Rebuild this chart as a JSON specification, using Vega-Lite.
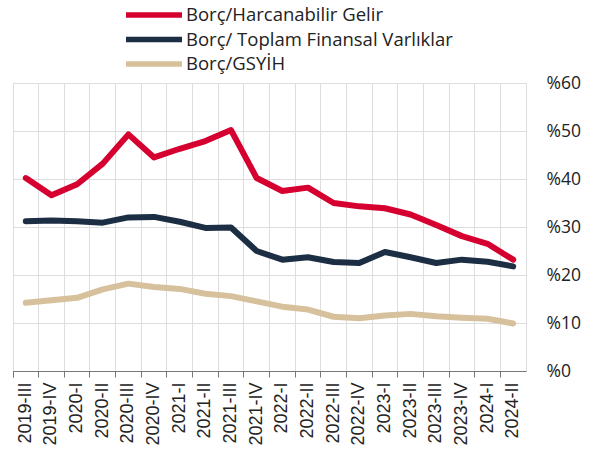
{
  "$schema": "https://vega.github.io/schema/vega-lite/v6.json",
  "width": 513,
  "height": 288,
  "autosize": {"type": "none"},
  "padding": {"left": 13, "top": 83, "right": 64, "bottom": 80},
  "background": "white",
  "config": {"view": {"stroke": "#dddddd"}, "font": "Open Sans"},
  "data": {"values": [
    {"d": "2019-III", "s": "Borç/Harcanabilir Gelir", "v": 40.2},
    {"d": "2019-IV", "s": "Borç/Harcanabilir Gelir", "v": 36.6},
    {"d": "2020-I", "s": "Borç/Harcanabilir Gelir", "v": 38.9},
    {"d": "2020-II", "s": "Borç/Harcanabilir Gelir", "v": 43.2},
    {"d": "2020-III", "s": "Borç/Harcanabilir Gelir", "v": 49.3},
    {"d": "2020-IV", "s": "Borç/Harcanabilir Gelir", "v": 44.5},
    {"d": "2021-I", "s": "Borç/Harcanabilir Gelir", "v": 46.3},
    {"d": "2021-II", "s": "Borç/Harcanabilir Gelir", "v": 47.9},
    {"d": "2021-III", "s": "Borç/Harcanabilir Gelir", "v": 50.2},
    {"d": "2021-IV", "s": "Borç/Harcanabilir Gelir", "v": 40.2},
    {"d": "2022-I", "s": "Borç/Harcanabilir Gelir", "v": 37.5},
    {"d": "2022-II", "s": "Borç/Harcanabilir Gelir", "v": 38.2},
    {"d": "2022-III", "s": "Borç/Harcanabilir Gelir", "v": 35.0},
    {"d": "2022-IV", "s": "Borç/Harcanabilir Gelir", "v": 34.3},
    {"d": "2023-I", "s": "Borç/Harcanabilir Gelir", "v": 33.9},
    {"d": "2023-II", "s": "Borç/Harcanabilir Gelir", "v": 32.6},
    {"d": "2023-III", "s": "Borç/Harcanabilir Gelir", "v": 30.4},
    {"d": "2023-IV", "s": "Borç/Harcanabilir Gelir", "v": 28.1},
    {"d": "2024-I", "s": "Borç/Harcanabilir Gelir", "v": 26.5},
    {"d": "2024-II", "s": "Borç/Harcanabilir Gelir", "v": 23.2},
    {"d": "2019-III", "s": "Borç/ Toplam Finansal Varlıklar", "v": 31.2},
    {"d": "2019-IV", "s": "Borç/ Toplam Finansal Varlıklar", "v": 31.35},
    {"d": "2020-I", "s": "Borç/ Toplam Finansal Varlıklar", "v": 31.2},
    {"d": "2020-II", "s": "Borç/ Toplam Finansal Varlıklar", "v": 30.9},
    {"d": "2020-III", "s": "Borç/ Toplam Finansal Varlıklar", "v": 32.0},
    {"d": "2020-IV", "s": "Borç/ Toplam Finansal Varlıklar", "v": 32.1},
    {"d": "2021-I", "s": "Borç/ Toplam Finansal Varlıklar", "v": 31.1},
    {"d": "2021-II", "s": "Borç/ Toplam Finansal Varlıklar", "v": 29.8},
    {"d": "2021-III", "s": "Borç/ Toplam Finansal Varlıklar", "v": 29.9},
    {"d": "2021-IV", "s": "Borç/ Toplam Finansal Varlıklar", "v": 25.0},
    {"d": "2022-I", "s": "Borç/ Toplam Finansal Varlıklar", "v": 23.2},
    {"d": "2022-II", "s": "Borç/ Toplam Finansal Varlıklar", "v": 23.7},
    {"d": "2022-III", "s": "Borç/ Toplam Finansal Varlıklar", "v": 22.7},
    {"d": "2022-IV", "s": "Borç/ Toplam Finansal Varlıklar", "v": 22.5},
    {"d": "2023-I", "s": "Borç/ Toplam Finansal Varlıklar", "v": 24.8},
    {"d": "2023-II", "s": "Borç/ Toplam Finansal Varlıklar", "v": 23.7},
    {"d": "2023-III", "s": "Borç/ Toplam Finansal Varlıklar", "v": 22.5},
    {"d": "2023-IV", "s": "Borç/ Toplam Finansal Varlıklar", "v": 23.2},
    {"d": "2024-I", "s": "Borç/ Toplam Finansal Varlıklar", "v": 22.75},
    {"d": "2024-II", "s": "Borç/ Toplam Finansal Varlıklar", "v": 21.8},
    {"d": "2019-III", "s": "Borç/GSYİH", "v": 14.2},
    {"d": "2019-IV", "s": "Borç/GSYİH", "v": 14.75},
    {"d": "2020-I", "s": "Borç/GSYİH", "v": 15.25},
    {"d": "2020-II", "s": "Borç/GSYİH", "v": 17.0},
    {"d": "2020-III", "s": "Borç/GSYİH", "v": 18.2},
    {"d": "2020-IV", "s": "Borç/GSYİH", "v": 17.5},
    {"d": "2021-I", "s": "Borç/GSYİH", "v": 17.1},
    {"d": "2021-II", "s": "Borç/GSYİH", "v": 16.1},
    {"d": "2021-III", "s": "Borç/GSYİH", "v": 15.6},
    {"d": "2021-IV", "s": "Borç/GSYİH", "v": 14.5},
    {"d": "2022-I", "s": "Borç/GSYİH", "v": 13.4},
    {"d": "2022-II", "s": "Borç/GSYİH", "v": 12.8},
    {"d": "2022-III", "s": "Borç/GSYİH", "v": 11.3},
    {"d": "2022-IV", "s": "Borç/GSYİH", "v": 11.0},
    {"d": "2023-I", "s": "Borç/GSYİH", "v": 11.55},
    {"d": "2023-II", "s": "Borç/GSYİH", "v": 11.9},
    {"d": "2023-III", "s": "Borç/GSYİH", "v": 11.4},
    {"d": "2023-IV", "s": "Borç/GSYİH", "v": 11.1},
    {"d": "2024-I", "s": "Borç/GSYİH", "v": 10.9},
    {"d": "2024-II", "s": "Borç/GSYİH", "v": 9.9}
  ]},
  "mark": {"type": "line", "strokeWidth": 6, "strokeJoin": "round", "strokeCap": "round"},
  "encoding": {
    "x": {
      "field": "d", "type": "ordinal", "sort": null, "bandPosition": 0.5,
      "scale": {"type": "band", "paddingInner": 0, "paddingOuter": 0},
      "axis": {
        "title": null, "bandPosition": 0, "tickExtra": true,
        "labelAngle": -90, "labelAlign": "right", "labelBaseline": "middle",
        "labelFont": "Liberation Sans", "labelFontSize": 18, "labelColor": "#222222",
        "labelPadding": 5, "tickSize": 6, "tickColor": "#777777",
        "domainColor": "#777777", "grid": true, "gridColor": "#dddddd"
      }
    },
    "y": {
      "field": "v", "type": "quantitative",
      "scale": {"domain": [0, 60]},
      "axis": {
        "title": null, "orient": "right", "values": [0, 10, 20, 30, 40, 50, 60],
        "labelExpr": "'%' + datum.value", "ticks": false, "domain": false,
        "labelPadding": 20, "labelFontSize": 17.5, "labelColor": "#222222",
        "labelFont": "Open Sans", "gridColor": "#dddddd"
      }
    },
    "color": {
      "field": "s", "type": "nominal",
      "scale": {
        "domain": ["Borç/Harcanabilir Gelir", "Borç/ Toplam Finansal Varlıklar", "Borç/GSYİH"],
        "range": ["#d5002f", "#1b2e44", "#d7c19d"]
      },
      "legend": {
        "title": null, "orient": "none", "legendX": 110, "legendY": -79,
        "symbolType": "stroke", "symbolSize": 3136, "symbolStrokeWidth": 5.5,
        "labelFontSize": 18.5, "labelColor": "#222222", "labelFont": "Open Sans",
        "labelLimit": 500, "clipHeight": 22, "rowPadding": 2.5, "labelOffset": 1
      }
    }
  }
}
